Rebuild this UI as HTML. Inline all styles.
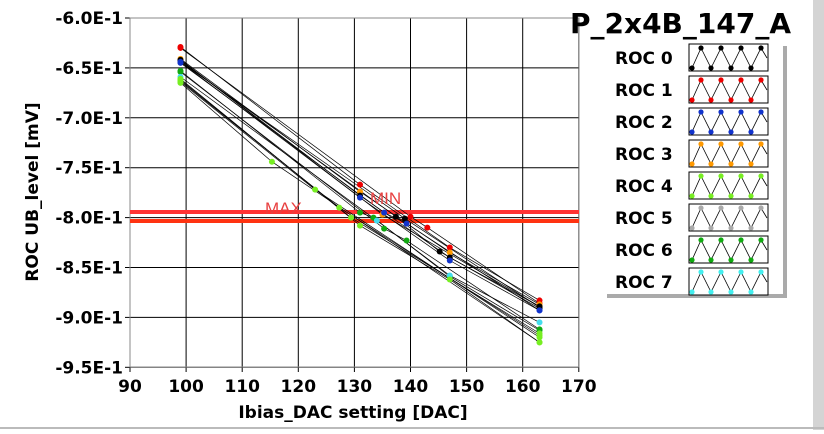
<!DOCTYPE html>
<html><head><meta charset="utf-8"><style>
body{margin:0;background:#fff;width:824px;height:430px;overflow:hidden;font-family:"DejaVu Sans","Liberation Sans",sans-serif}
</style></head><body>
<svg id="s" width="824" height="430" xmlns="http://www.w3.org/2000/svg" font-family="DejaVu Sans, Liberation Sans, sans-serif">
<rect x="0" y="0" width="824" height="430" fill="#fff"/>
<rect x="813" y="0" width="11" height="430" fill="#d4d4d4"/>
<line x1="0" y1="428" x2="824" y2="428" stroke="#bbb" stroke-width="2"/>
<g id="grid"></g>
<g id="data"></g>
<text x="265" y="214" fill="#e84040" font-size="17" font-family="Liberation Sans, sans-serif">MAX</text>
<text x="370" y="204" fill="#e84040" font-size="17" font-family="Liberation Sans, sans-serif">MIN</text>
<text x="570" y="33" font-size="28" font-weight="bold">P_2x4B_147_A</text>
<text x="353" y="418" font-size="17" font-weight="bold" text-anchor="middle">Ibias_DAC setting [DAC]</text>
<text transform="translate(38,192) rotate(-90)" font-size="17" font-weight="bold" text-anchor="middle">ROC UB_level [mV]</text>
<rect x="607" y="46" width="180" height="252" fill="#aaa"/>
<rect x="603" y="42" width="180" height="252" fill="#fff"/>
<g id="leg"></g>
</svg>
<script>
var X=function(v){return 130+(v-90)*5.61},Y=function(v){return 18+(-0.6-v)*998};
var g='',i;
for(i=0;i<=8;i++){var x=X(90+i*10);g+='<line x1="'+x+'" y1="18" x2="'+x+'" y2="367" stroke="#000" stroke-width="1"/>';
g+='<line x1="'+x+'" y1="367" x2="'+x+'" y2="372" stroke="#000"/>';
g+='<text x="'+x+'" y="392" font-size="17" font-weight="bold" text-anchor="middle">'+(90+i*10)+'</text>';}
for(i=0;i<=7;i++){var v=-0.6-i*0.05,y=Y(v);g+='<line x1="130" y1="'+y+'" x2="579" y2="'+y+'" stroke="#000" stroke-width="1"/>';
g+='<line x1="125" y1="'+y+'" x2="130" y2="'+y+'" stroke="#000"/>';
g+='<text x="123" y="'+(y+6)+'" font-size="17" font-weight="bold" text-anchor="end">-'+(6+i*0.5).toFixed(1)+'E-1</text>';}
g+='<rect x="130" y="18" width="449" height="349" fill="none" stroke="#888"/>';
g+='<rect x="130" y="210" width="449" height="4" fill="#f33"/><rect x="130" y="219" width="449" height="4" fill="#f31"/>';
document.getElementById('grid').innerHTML=g;
var L=[
['#e00',[99,-0.629,131,-0.767,147,-0.830,163,-0.883]],
['#e00',[99,-0.630,140,-0.799,143,-0.810,163,-0.886]],
['#f90',[99,-0.641,131,-0.774,147,-0.835,163,-0.887]],
['#f90',[99,-0.642,135,-0.797,163,-0.889]],
['#000',[99,-0.642,131,-0.778,147,-0.840,163,-0.889]],
['#000',[99,-0.643,137.4,-0.799,145.2,-0.834,163,-0.891]],
['#000',[99,-0.644,139,-0.801,163,-0.890]],
['#13c',[99,-0.644,131,-0.780,147,-0.843,163,-0.893]],
['#13c',[99,-0.645,135.3,-0.795,139.3,-0.806,163,-0.893]],
['#1a1',[99,-0.653,131,-0.795,133.4,-0.800,147,-0.859,163,-0.913]],
['#1a1',[99,-0.654,135.3,-0.811,139.3,-0.823,163,-0.912]],
['#4de',[99,-0.659,134,-0.803,147,-0.858,163,-0.905]],
['#7e2',[99,-0.665,115.3,-0.744,163,-0.925]],
['#7e2',[99,-0.664,123,-0.772,163,-0.920]],
['#7e2',[99,-0.663,127.3,-0.790,163,-0.918]],
['#7e2',[99,-0.662,129.4,-0.800,163,-0.916]],
['#7e2',[99,-0.661,131,-0.808,147,-0.862,163,-0.925]]];
var d='',dots='';
L.forEach(function(s){var p=s[1],pts=[];for(var k=0;k<p.length;k+=2){pts.push(X(p[k])+','+Y(p[k+1]));dots+='<circle cx="'+X(p[k])+'" cy="'+Y(p[k+1])+'" r="3" fill="'+s[0]+'"/>';}
d+='<polyline points="'+pts.join(' ')+'" fill="none" stroke="#000" stroke-width="0.7"/>';});
document.getElementById('data').innerHTML=d+dots;
var C=['#000','#e00','#13c','#f90','#7e2','#aaa','#1a1','#4ee'],lg='';
for(i=0;i<8;i++){var y0=44+i*32;
lg+='<text x="615" y="'+(y0+20)+'" font-size="17" font-weight="bold">ROC '+i+'</text>';
lg+='<rect x="689" y="'+y0+'" width="79" height="27" fill="#fff" stroke="#000"/>';
var pts=[[692,y0+24],[701,y0+4],[711,y0+24],[721,y0+4],[731,y0+24],[741,y0+4],[751,y0+24],[761,y0+4],[767,y0+14]];
lg+='<polyline points="'+pts.map(function(p){return p.join(',')}).join(' ')+'" fill="none" stroke="#000" stroke-width="0.8"/>';
pts.slice(0,8).forEach(function(p){lg+='<circle cx="'+p[0]+'" cy="'+p[1]+'" r="2.6" fill="'+C[i]+'"/>';});}
document.getElementById('leg').innerHTML=lg;
</script>
</body></html>
